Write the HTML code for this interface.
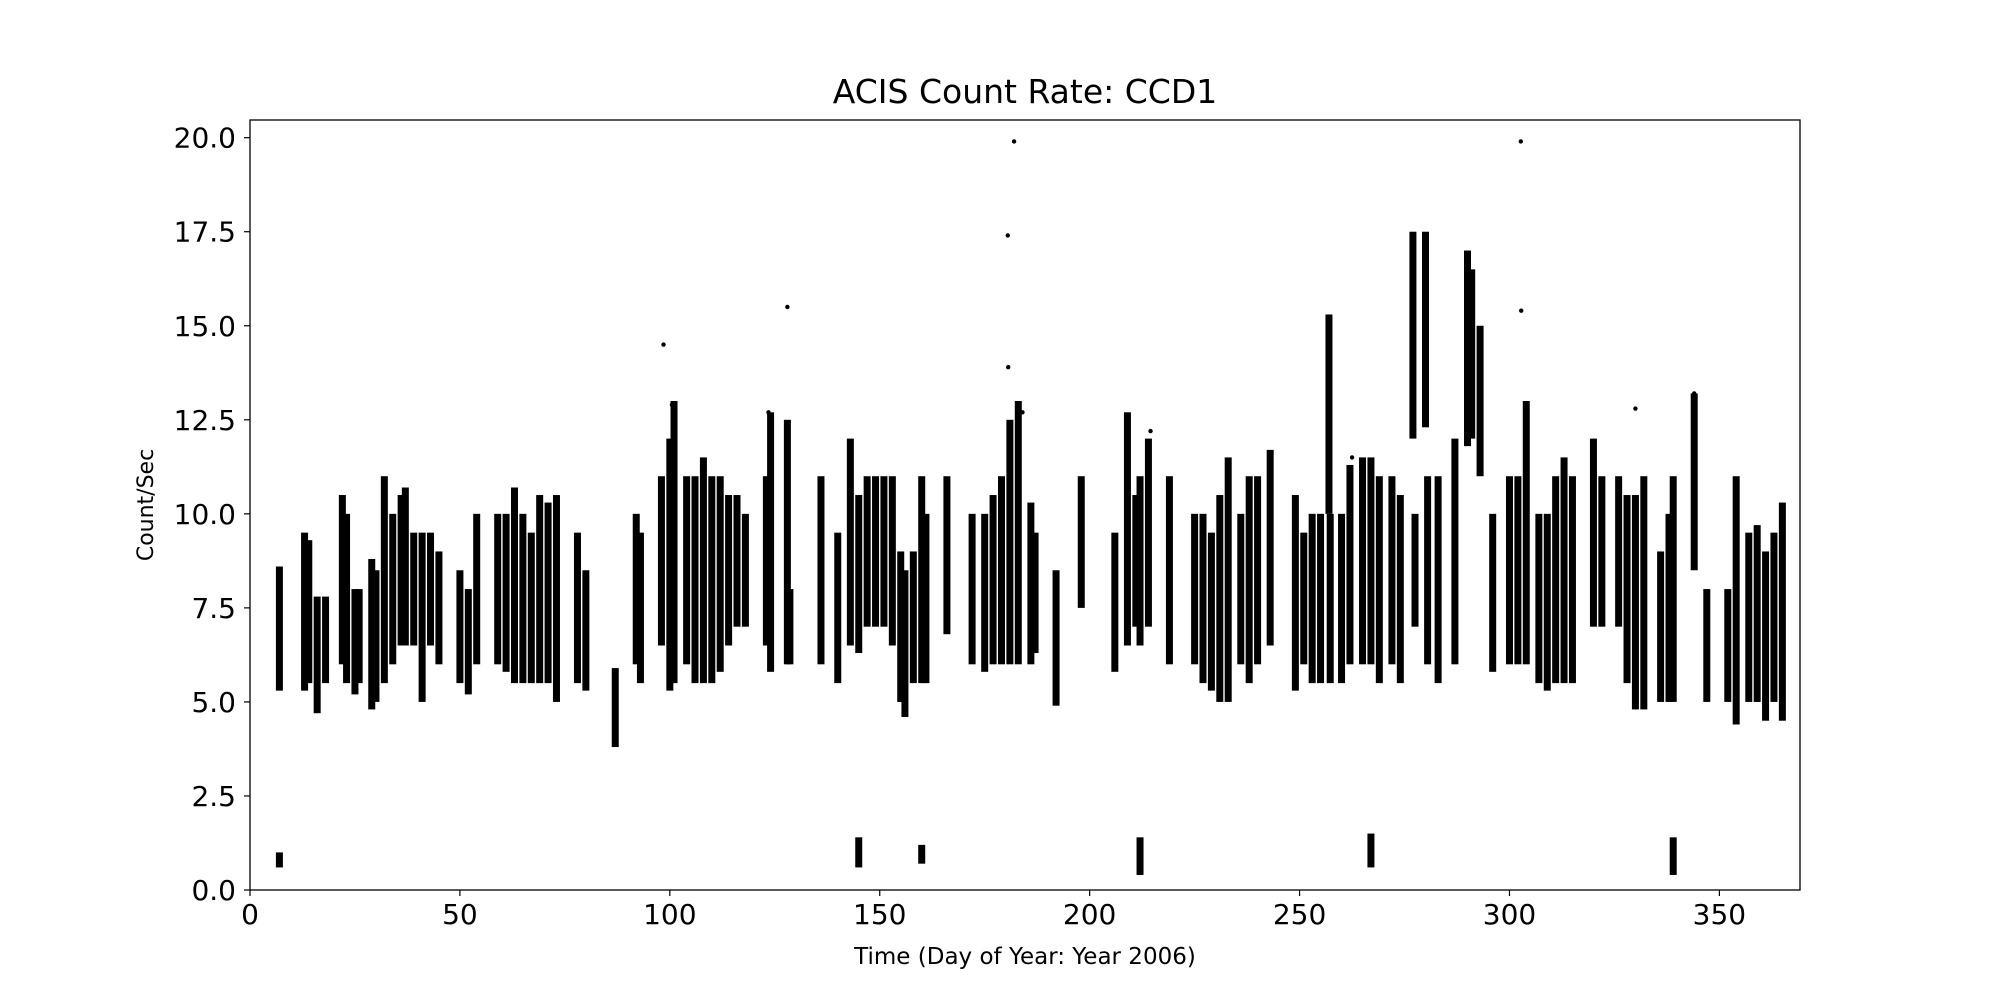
<!DOCTYPE html>
<html><head><meta charset="utf-8"><style>
html,body{margin:0;padding:0;background:#fff;}
svg{display:block;font-family:"DejaVu Sans","Liberation Sans",sans-serif;}
</style></head><body>
<svg id="chart" width="2000" height="1000" viewBox="0 0 2000 1000">
<rect width="2000" height="1000" fill="#fff"/>
<text x="1025" y="103" font-size="33" text-anchor="middle">ACIS Count Rate: CCD1</text>
<text x="1025" y="964" font-size="23" text-anchor="middle">Time (Day of Year: Year 2006)</text>
<text transform="translate(153,505) rotate(-90)" font-size="22" text-anchor="middle">Count/Sec</text>
<g id="marks"></g>
<g id="axes"></g>
</svg>
<script>
const clusterDays=[7,13,14,16,18,22,23,25,26,29,30,32,34,36,37,39,41,43,45,50,52,54,59,61,63,65,67,69,71,73,78,80,87,92,93,98,100,101,104,106,108,110,112,114,116,118,123,124,128,128.6,136,140,143,145,147,149,151,153,155,156,158,160,161,166,172,175,177,179,181,183,186,187,192,198,206,209,211,212,214,219,225,227,229,231,233,236,238,240,243,249,251,253,255,257,257.3,260,262,265,267,269,272,274,277,277.5,280,280.5,283,287,290,291,293,296,300,302,304,307,309,311,313,315,320,322,326,328,330,332,336,338,339,344,347,352,354,357,359,361,363,365,7,145,160,212,267,339];
const clusterLow=[5.3,5.3,5.5,4.7,5.5,6,5.5,5.2,5.5,4.8,5,5.5,6,6.5,6.5,6.5,5,6.5,6,5.5,5.2,6,6,5.8,5.5,5.5,5.5,5.5,5.5,5,5.5,5.3,3.8,6,5.5,6.5,5.3,5.5,6,5.5,5.5,5.5,5.8,6.5,7,7,6.5,5.8,6,6,6,5.5,6.5,6.3,7,7,7,6.5,5,4.6,5.5,5.5,5.5,6.8,6,5.8,6,6,6,6,6,6.3,4.9,7.5,5.8,6.5,7,6.5,7,6,6,5.5,5.3,5,5,6,5.5,6,6.5,5.3,6,5.5,5.5,10,5.5,5.5,6,6,6,5.5,6,5.5,12,7,12.3,6,5.5,6,11.8,12,11,5.8,6,6,6,5.5,5.3,5.5,5.5,5.5,7,7,7,5.5,4.8,4.8,5,5,5,8.5,5,5,4.4,5,5,4.5,5,4.5,0.6,0.6,0.7,0.4,0.6,0.4];
const clusterHigh=[8.6,9.5,9.3,7.8,7.8,10.5,10,8,8,8.8,8.5,11,10,10.5,10.7,9.5,9.5,9.5,9,8.5,8,10,10,10,10.7,10,9.5,10.5,10.3,10.5,9.5,8.5,5.9,10,9.5,11,12,13,11,11,11.5,11,11,10.5,10.5,10,11,12.7,12.5,8,11,9.5,12,10.5,11,11,11,11,9,8.5,9,11,10,11,10,10,10.5,11,12.5,13,10.3,9.5,8.5,11,9.5,12.7,10.5,11,12,11,10,10,9.5,10.5,11.5,10,11,11,11.7,10.5,9.5,10,10,15.3,10,10,11.3,11.5,11.5,11,11,10.5,17.5,10,17.5,11,11,12,17,16.5,15,10,11,11,13,10,10,11,11.5,11,12,11,11,10.5,10.5,11,9,10,11,13.2,8,8,11,9.5,9.7,9,9.5,10.3,1.0,1.4,1.2,1.4,1.5,1.4];
const outlierDays=[180.5,182,180.6,302.7,302.8,98.5,128,184,100.5,123.5,214.5,262.5,330,344];
const outlierValues=[17.4,19.9,13.9,19.9,15.4,14.5,15.5,12.7,12.9,12.7,12.2,11.5,12.8,13.2];
const xTicks=[0,50,100,150,200,250,300,350];
const yTicks=[0,2.5,5,7.5,10,12.5,15,17.5,20];
const yTickLabels=["0.0","2.5","5.0","7.5","10.0","12.5","15.0","17.5","20.0"];
const L=250,R=1800,T=120,B=890,XMAX=369.2,YMAX=20.47;
const sx=d=>L+d/XMAX*(R-L);
const sy=v=>B-v/YMAX*(B-T);
const NS="http://www.w3.org/2000/svg";
const marks=document.getElementById('marks'),axes=document.getElementById('axes');
function mk(tag,attrs,parent){const e=document.createElementNS(NS,tag);for(const k in attrs)e.setAttribute(k,attrs[k]);parent.appendChild(e);return e;}
clusterDays.forEach((d,i)=>{
  const r=mk('rect',{x:sx(d)-3.5,y:sy(clusterHigh[i]),width:7,height:Math.max(2,sy(clusterLow[i])-sy(clusterHigh[i])),fill:'#000'},marks);
  
  
});
outlierDays.forEach((d,i)=>{
  const c=mk('circle',{cx:sx(d),cy:sy(outlierValues[i]),r:2.2,fill:'#000'},marks);
  
  
});
const frame=mk('rect',{x:L,y:T,width:R-L,height:B-T,fill:'none',stroke:'#000','stroke-width':1.3},axes);


xTicks.forEach(t=>{
  const x=sx(t);
  mk('line',{x1:x,x2:x,y1:B,y2:B+6,stroke:'#000','stroke-width':1.2},axes);
  const tx=mk('text',{x:x,y:B+34,'font-size':28,'text-anchor':'middle'},axes);
  tx.textContent=t;
  
  
});
yTicks.forEach((t,i)=>{
  const y=sy(t);
  mk('line',{x1:L-6,x2:L,y1:y,y2:y,stroke:'#000','stroke-width':1.2},axes);
  const tx=mk('text',{x:L-14,y:y+10,'font-size':28,'text-anchor':'end'},axes);
  tx.textContent=yTickLabels[i];
  
  
});
</script>
</body></html>
